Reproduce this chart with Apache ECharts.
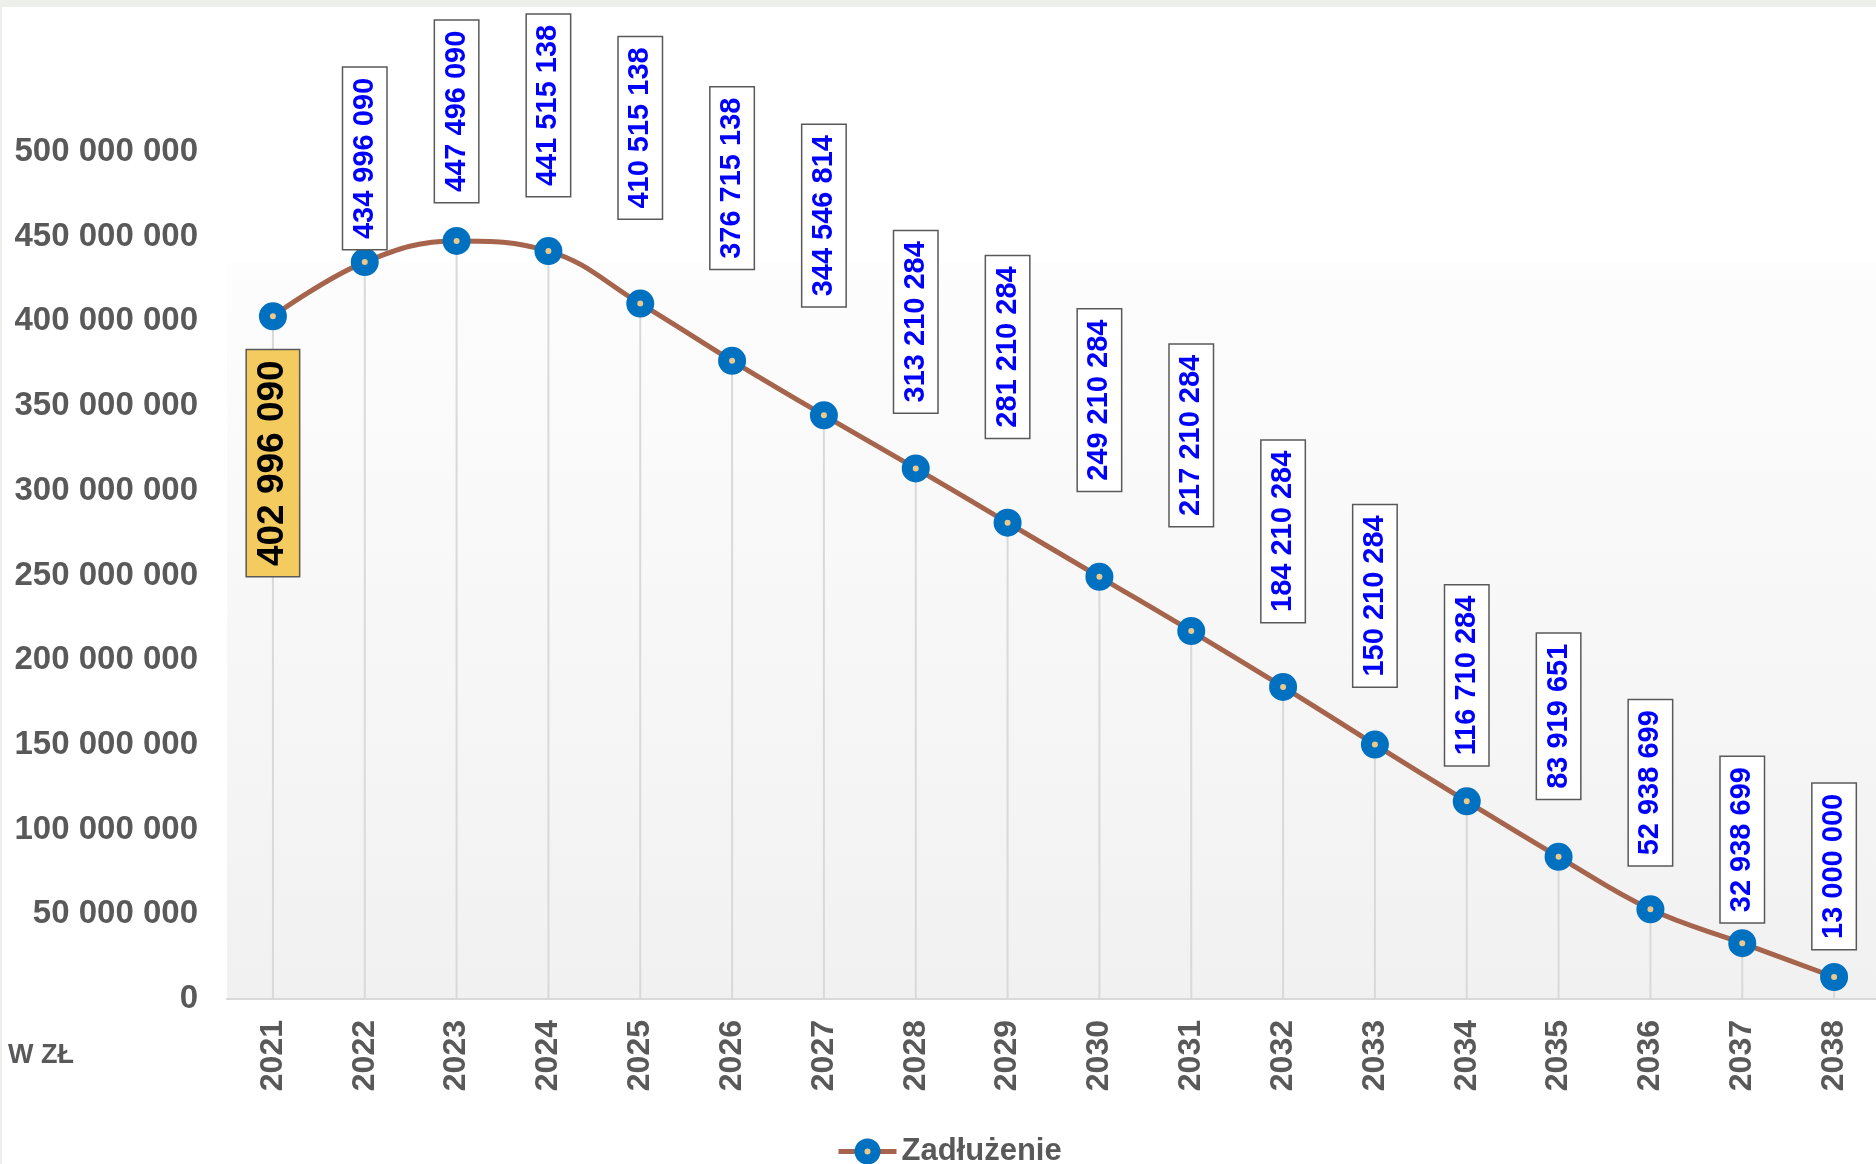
<!DOCTYPE html>
<html>
<head>
<meta charset="utf-8">
<title>Zadłużenie</title>
<script src="https://cdn.jsdelivr.net/npm/echarts@6/dist/echarts.min.js"></script>
<style>
html, body { margin: 0; padding: 0; background: #ffffff; }
#chart { width: 1876px; height: 1164px; }
</style>
</head>
<body>
<div id="chart"></div>
<script>
// dane
const years = ['2021', '2022', '2023', '2024', '2025', '2026', '2027', '2028', '2029',
  '2030', '2031', '2032', '2033', '2034', '2035', '2036', '2037', '2038']
const debt = [402996090, 434996090, 447496090, 441515138, 410515138, 376715138, 344546814,
  313210284, 281210284, 249210284, 217210284, 184210284, 150210284, 116710284, 83919651,
  52938699, 32938699, 13000000]
const yMin = 0
const yMax = 500000000
const yStep = 50000000

// odstep etykiety od srodka punktu (px), jak w oryginale
const labelGap = [34, 13, 39, 55, 85, 92, 109, 56, 85, 86, 105, 65, 58, 36, 58, 44, 21, 28]

const fontMain = 'Liberation Sans, Arial, sans-serif'
const grey = '#595959'
const lineColor = '#a5644b'
const markerBlue = '#0070c0'
const markerFill = '#ebc98c'
const markerHalf = 14

const fmt = (v) => String(v).replace(/\B(?=(\d{3})+(?!\d))/g, ' ')

const lineData = debt.map((v, i) => {
  if (i === 0) {
    return {
      value: v,
      label: {
        position: 'bottom',
        distance: labelGap[i] - markerHalf,
        align: 'right',
        verticalAlign: 'middle',
        color: '#000000',
        fontSize: 37,
        lineHeight: 36,
        padding: [8, 10],
        backgroundColor: '#f3cb5e'
      }
    }
  }
  return { value: v, label: { distance: labelGap[i] - markerHalf } }
})

var chartDom = document.getElementById('chart')
var myChart = echarts.init(chartDom)
var option

option = {
  animation: false,
  backgroundColor: '#ffffff',
  grid: {
    left: 227,
    right: -4,
    top: 152,
    bottom: 165,
    show: true,
    borderWidth: 0,
    outerBoundsMode: 'none',
    backgroundColor: new echarts.graphic.LinearGradient(0, 0, 0, 1, [
      { offset: 0, color: 'rgba(255,255,255,0)' },
      { offset: 0.131, color: 'rgba(255,255,255,0)' },
      { offset: 0.131, color: '#fdfdfd' },
      { offset: 1, color: '#f1f1f1' }
    ])
  },
  legend: {
    data: [
      {
        name: 'Zadłużenie',
        itemStyle: { color: markerFill, borderColor: markerBlue, borderWidth: 10 },
        lineStyle: { color: lineColor, width: 5 }
      }
    ],
    top: 1131,
    left: 831,
    itemWidth: 58,
    itemHeight: 20,
    itemGap: 6,
    textStyle: {
      color: grey,
      fontSize: 31,
      fontWeight: 'bold',
      fontFamily: fontMain
    }
  },
  graphic: [
    { type: 'rect', shape: { x: 0, y: 0, width: 1876, height: 7 }, style: { fill: '#edefea' } },
    { type: 'rect', shape: { x: 0, y: 0, width: 2, height: 1164 }, style: { fill: '#edefea' } },
    {
      type: 'text',
      left: 8,
      top: 1042,
      style: {
        text: 'W ZŁ',
        fill: grey,
        fontSize: 27,
        fontWeight: 'bold',
        fontFamily: fontMain
      }
    }
  ],
  xAxis: {
    type: 'category',
    data: years,
    axisTick: { show: false },
    axisLine: { lineStyle: { color: '#d9d9d9', width: 2 } },
    axisLabel: {
      rotate: 90,
      margin: 21,
      color: grey,
      fontSize: 32,
      fontWeight: 'bold',
      fontFamily: fontMain
    }
  },
  yAxis: {
    type: 'value',
    min: yMin,
    max: yMax,
    interval: yStep,
    splitLine: { show: false },
    axisLine: { show: false },
    axisTick: { show: false },
    axisLabel: {
      margin: 29,
      color: grey,
      fontSize: 33,
      fontWeight: 'bold',
      fontFamily: fontMain,
      formatter: fmt
    }
  },
  series: [
    {
      // linie spadku od punktu do osi
      name: 'drop',
      type: 'bar',
      data: debt,
      barWidth: 2,
      silent: true,
      itemStyle: { color: '#d9d9d9' }
    },
    {
      name: 'Zadłużenie',
      type: 'line',
      data: lineData,
      smooth: 0.4,
      symbol: 'circle',
      symbolSize: 17,
      lineStyle: { color: lineColor, width: 5 },
      itemStyle: {
        color: markerFill,
        borderColor: markerBlue,
        borderWidth: 11
      },
      label: {
        show: true,
        position: 'top',
        rotate: 90,
        align: 'left',
        verticalAlign: 'middle',
        color: '#0000ff',
        fontSize: 29,
        lineHeight: 27,
        fontWeight: 'bold',
        fontFamily: fontMain,
        padding: [8, 10],
        backgroundColor: '#ffffff',
        borderColor: grey,
        borderWidth: 1.5,
        formatter: (p) => fmt(p.value)
      }
    }
  ]
}

option && myChart.setOption(option)
</script>
</body>
</html>
